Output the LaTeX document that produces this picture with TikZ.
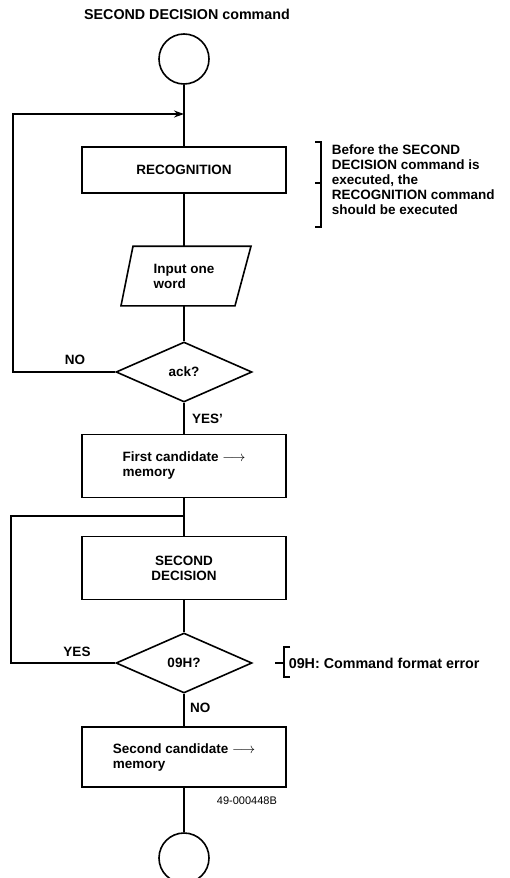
\documentclass[tikz,border=0pt]{standalone}
\usepackage{fontspec}
\setmainfont{Liberation Sans}
\usetikzlibrary{shapes.geometric,arrows.meta}
\begin{document}
\begin{tikzpicture}[x=1pt,y=1pt,line width=1.6pt,font=\fontsize{13.5}{15}\selectfont\bfseries,>={Stealth[length=10pt,width=7pt]},
  term/.style={circle,draw,minimum size=50pt,inner sep=0pt},
  proc/.style={rectangle,draw,minimum width=204pt,inner sep=0pt,align=left},
  io/.style={rectangle,minimum width=104pt,minimum height=58pt,inner sep=0pt,align=left},
  test/.style={diamond,draw,aspect=2.25,minimum width=136pt,minimum height=60pt,inner sep=0pt},
  note/.style={align=left,anchor=west,inner sep=0pt}]
\useasboundingbox (0,0) rectangle (509,-878);
\clip (0,0) rectangle (509,-878);
\node[font=\fontsize{14.3}{16}\selectfont\bfseries] (title) at (187,-14) {SECOND DECISION command};
\node[term] (start) at (184,-59) {};
\coordinate (j1) at (184,-114);
\node[proc,minimum height=46pt,align=center] (recog) at (184,-170) {RECOGNITION};
\node[io] (input) at (184,-276) {Input one\\word};
\draw ([xshift=-51pt]input.north) -- ([xshift=67pt]input.north) -- ([xshift=51pt]input.south) -- ([xshift=-63pt]input.south) -- cycle;
\node[test] (ack) at (184,-372) {ack?};
\node[proc,minimum height=63pt] (first) at (184,-466) {First candidate $\longrightarrow$\\memory};
\coordinate (j2) at (184,-516);
\node[proc,minimum height=63pt,align=center] (sdec) at (184,-568) {SECOND\\DECISION};
\node[test] (err) at (184,-663) {09H?};
\node[proc,minimum height=60pt] (second) at (184,-757) {Second candidate $\longrightarrow$\\memory};
\node[term] (stop) at (184,-858) {};
\node (no1) at (75,-360) {NO};
\node[anchor=west] (yes1) at (188,-419) {YES'};
\node (yes2) at (77,-652) {YES};
\node[anchor=west] (no2) at (186,-708) {NO};
\node[anchor=east,font=\fontsize{11}{12}\selectfont] (code) at (281,-801) {49-000448B};
\node[note] (note1) at (331,-180) {Before the SECOND\\DECISION command is\\executed, the\\RECOGNITION command\\should be executed};
\node[note,font=\fontsize{14.3}{16}\selectfont\bfseries] (note2) at (288,-663) {09H: Command format error};
\draw (start) -- (recog);
\draw (recog) -- (input);
\draw (input) -- (ack);
\draw (ack) -- (first);
\draw (first) -- (sdec);
\draw (sdec) -- (err);
\draw (err) -- (second);
\draw (second) -- (stop);
\draw[->] (ack.west) -- ++(-102,0) |- (j1);
\draw (err.west) -- ++(-104,0) |- (j2);
\draw (315,-142) -- (321,-142) -- (321,-227) -- (315,-227);
\draw (315,-183) -- (321,-183);
\draw (290,-647) -- (284,-647) -- (284,-677) -- (290,-677);
\draw (275,-663) -- (284,-663);
\end{tikzpicture}
\end{document}
